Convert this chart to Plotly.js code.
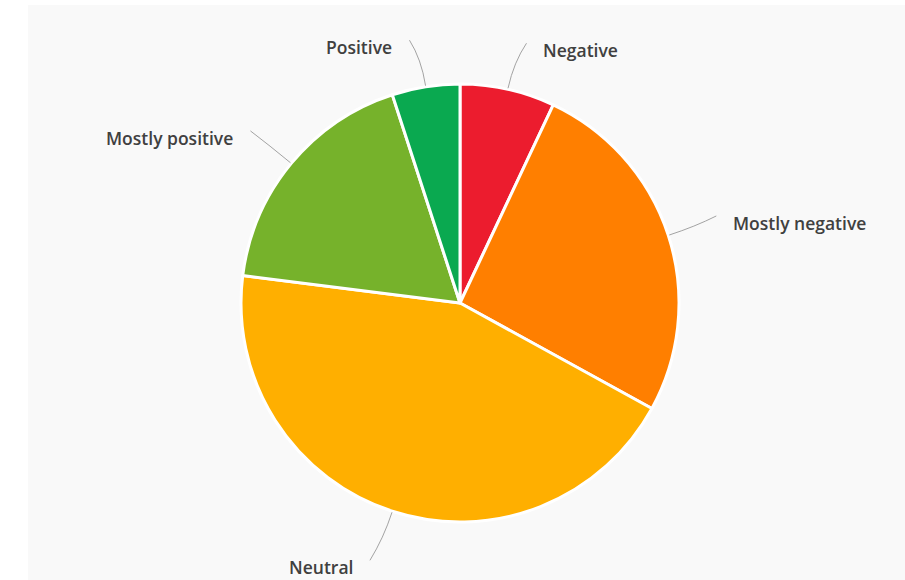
<!DOCTYPE html>
<html>
<head>
<meta charset="utf-8">
<script src="https://cdn.plot.ly/plotly-3.0.1.min.js"></script>
<style>
  html, body { margin: 0; padding: 0; background: #ffffff; }
  #chart { position: absolute; left: 28px; top: 5px; width: 877px; height: 575px; }
</style>
</head>
<body>
<div id="chart"></div>
<script>
// Data
const labels = ['Negative', 'Mostly negative', 'Neutral', 'Mostly positive', 'Positive'];
const values = [7, 26, 44, 18, 5];
const colors = ['#ec1c2e', '#ff7f00', '#ffaf00', '#76b22b', '#0aa950'];

// Layout geometry (pixels inside the chart div)
const W = 877, H = 575;
const CX = 432, CY = 298, R = 219;
const DIST = 40;       // label distance beyond the rim
const GAP = 25;        // horizontal gap from anchor to text
const LOWER_SHIFT = 18;

const px = x => x / W;
const py = y => 1 - y / H;

const total = values.reduce((a, b) => a + b, 0);
const shapes = [];
const annotations = [];
let cum = 0;
values.forEach((v, i) => {
  const mid = (cum + v / 2) / total * 2 * Math.PI;
  cum += v;
  const s = Math.sin(mid), c = Math.cos(mid);
  const right = s >= 0;
  const shiftY = c < 0 ? LOWER_SHIFT : 0;
  const ex = CX + (R + 1) * s, ey = CY - (R + 1) * c;
  const ax = CX + (R + DIST) * s, ay = CY - (R + DIST) * c + shiftY;
  const endX = ax + (right ? 10 : -10), endY = ay - 7;
  const ctrlX = CX + (R + 28) * s, ctrlY = CY - (R + 28) * c;
  shapes.push({
    type: 'path', xref: 'paper', yref: 'paper',
    path: `M ${px(ex)} ${py(ey)} Q ${px(ctrlX)} ${py(ctrlY)} ${px(endX)} ${py(endY)}`,
    line: { color: '#a3a3a3', width: 1 }
  });
  annotations.push({
    xref: 'paper', yref: 'paper',
    x: px(ax + (right ? GAP : -GAP)), y: py(ay),
    xanchor: right ? 'left' : 'right', yanchor: 'middle',
    text: labels[i], showarrow: false,
    font: { family: 'Open Sans, sans-serif', size: 17.5, weight: 600, color: '#404040' }
  });
});

const trace = {
  type: 'pie',
  labels: labels,
  values: values,
  sort: false,
  direction: 'clockwise',
  rotation: 0,
  textinfo: 'none',
  hoverinfo: 'label+percent',
  marker: { colors: colors, line: { color: '#ffffff', width: 3 } },
  domain: {
    x: [px(CX - R), px(CX + R)],
    y: [py(CY + R), py(CY - R)]
  }
};

const layout = {
  width: W, height: H,
  margin: { l: 0, r: 0, t: 0, b: 0 },
  paper_bgcolor: '#f9f9f9',
  showlegend: false,
  shapes: shapes,
  annotations: annotations
};

Plotly.newPlot('chart', [trace], layout, { displayModeBar: false, staticPlot: true });
</script>
</body>
</html>
